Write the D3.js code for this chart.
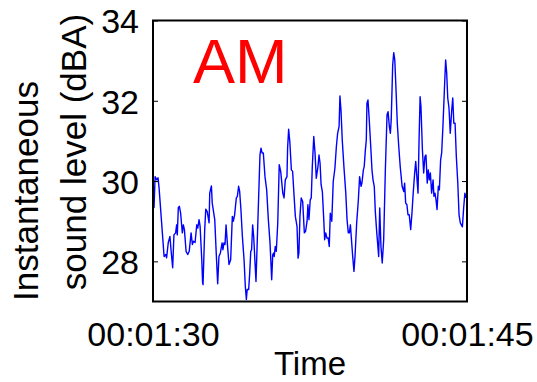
<!DOCTYPE html>
<html><head><meta charset="utf-8">
<script src="https://cdn.jsdelivr.net/npm/d3@7"></script>
<style>html,body{margin:0;padding:0;background:#fff;}svg{display:block;}</style>
</head><body>
<script>
// Data (time in seconds, level in dBA)
const times = [90.00,
90.05,90.10,90.18,90.24,90.29,90.53,90.61,90.65,90.73,90.81,
90.86,90.94,91.00,91.08,91.13,91.16,91.21,91.26,91.32,91.40,
91.45,91.50,91.58,91.66,91.73,91.82,91.88,91.93,92.01,92.09,
92.14,92.20,92.25,92.33,92.37,92.39,92.47,92.52,92.59,92.68,
92.71,92.79,92.83,92.95,93.02,93.09,93.15,93.22,93.30,93.34,
93.39,93.44,93.49,93.55,93.63,93.71,93.79,93.84,93.90,93.98,
94.03,94.09,94.14,94.20,94.27,94.35,94.41,94.46,94.50,94.57,
94.62,94.67,94.71,94.76,94.81,94.87,94.92,
95.11,95.16,95.21,95.27,95.35,95.43,95.51,95.59,95.67,95.72,
95.77,95.79,95.84,95.89,95.96,96.03,96.10,96.20,96.26,96.32,
96.40,96.43,96.48,96.54,96.61,96.67,96.74,96.80,96.88,96.93,
96.97,97.02,97.08,97.15,97.23,97.29,97.36,97.40,97.45,97.51,
97.56,97.61,97.68,97.74,97.80,97.88,97.93,97.98,98.03,98.09,
98.15,98.20,98.25,98.31,98.37,98.42,98.47,98.54,98.61,98.69,
98.76,98.82,98.89,98.93,98.98,99.04,99.12,99.21,99.27,99.33,
99.38,99.43,99.47,99.54,99.60,99.65,99.73,99.81,99.87,99.94,
99.98,100.05,100.09,100.14,100.19,100.22,100.27,100.33,100.41,100.46,
100.51,100.57,100.62,100.69,100.73,100.78,100.83,100.89,100.95,101.02,
101.10,101.18,101.23,101.29,101.34,101.38,101.45,101.50,101.55,101.61,
101.67,101.74,101.81,101.90,101.98,102.02,102.07,102.13,102.18,102.24,
102.31,102.37,102.43,102.50,102.55,102.58,102.66,102.71,102.76,102.80,
102.87,102.93,102.99,103.04,103.10,103.15,103.20,103.25,103.31,103.38,
103.42,103.47,103.52,103.57,103.63,103.68,103.74,103.79,103.85,103.92,
103.98,104.03,104.08,104.14,104.20,104.27,104.32,104.37,104.43,104.49,
104.56,104.62,104.68,104.78,104.84,104.90,104.95];

const levels = [29.55,
29.34,30.11,30.03,30.08,29.83,28.12,28.17,28.09,28.47,28.62,
28.29,27.84,28.66,28.71,28.91,28.66,29.34,29.37,29.20,28.71,
28.91,28.79,28.25,28.17,28.25,28.71,28.42,28.50,28.47,28.91,
28.83,29.04,28.87,28.04,27.47,27.42,28.79,29.30,29.24,28.96,
29.70,29.88,29.45,29.04,28.21,27.44,28.12,28.21,28.46,28.29,
28.46,28.42,28.91,28.46,27.92,28.04,29.12,29.00,29.16,29.58,
29.62,29.87,29.74,29.29,28.62,28.04,27.38,27.05,27.30,27.30,
27.71,28.25,28.29,28.91,28.62,28.00,27.50,
30.65,30.82,30.70,30.70,30.11,29.78,29.04,28.46,27.54,28.17,
28.21,28.12,28.37,28.25,28.96,30.41,30.24,29.70,29.58,30.03,
30.11,30.82,31.29,30.95,30.28,30.24,29.62,29.12,28.87,28.08,
28.21,29.12,29.58,29.49,28.71,28.75,29.00,29.41,29.04,29.53,
29.58,30.36,31.11,30.70,30.07,30.36,30.65,30.45,29.91,29.74,
29.12,28.54,28.71,28.58,28.58,28.37,29.20,29.00,29.99,30.32,
30.86,31.19,31.36,32.12,31.77,31.03,30.36,29.70,29.04,28.71,
28.71,28.91,28.62,28.12,27.75,28.12,28.96,29.53,30.11,29.87,
29.95,30.28,30.36,30.74,31.03,31.94,32.02,31.53,30.78,30.28,
30.03,29.87,29.24,28.71,28.46,28.12,29.33,28.37,27.96,28.54,
30.28,31.65,31.73,31.36,31.19,31.53,32.89,33.20,33.02,32.27,
31.44,30.86,30.36,29.87,29.74,29.95,29.45,29.41,29.16,29.16,
28.79,29.20,29.70,30.20,30.49,30.28,29.70,31.03,32.10,31.86,
30.78,30.20,30.61,30.65,29.95,30.28,30.03,30.20,29.70,30.03,
29.62,29.70,29.53,29.29,29.87,29.78,30.53,30.70,31.36,32.27,
33.02,32.69,32.07,31.82,31.19,31.77,32.07,31.44,31.44,30.61,
29.95,29.16,28.96,28.86,29.33,29.70,29.58];

const xDomain = [90, 105];
const yDomain = [27, 34];
const xTicks = [90, 105];
const yTicks = [28, 30, 32, 34];
const yLabelLines = ["Instantaneous", "sound level (dBA)"];
const xLabel = "Time";
const panelTitle = "AM";

const W = 537, H = 382;
const L = 153, R = 467, T = 20.5, B = 301.5;

const svg = d3.select("body").append("svg").attr("width", W).attr("height", H);
svg.append("rect").attr("width", W).attr("height", H).attr("fill", "#fff");

const x = d3.scaleLinear().domain(xDomain).range([L, R]);
const y = d3.scaleLinear().domain(yDomain).range([B, T]);

const fmt = s => {
  const hh = Math.floor(s / 3600), mm = Math.floor((s % 3600) / 60), ss = Math.round(s % 60);
  const p = n => String(n).padStart(2, "0");
  return p(hh) + ":" + p(mm) + ":" + p(ss);
};

const font = "'Liberation Sans', Arial, Helvetica, sans-serif";

// line
const n = Math.min(times.length, levels.length);
const data = d3.range(n).map(i => ({t: times[i], v: levels[i]}));
svg.append("defs").append("clipPath").attr("id", "clip")
  .append("rect").attr("x", L).attr("y", T).attr("width", R - L).attr("height", B - T);
svg.append("path").datum(data)
  .attr("clip-path", "url(#clip)")
  .attr("fill", "none").attr("stroke", "#0000ff").attr("stroke-width", 1.4)
  .attr("stroke-linejoin", "round")
  .attr("d", d3.line().x(d => x(d.t)).y(d => y(d.v)));

// axes (ticks inward, mirrored)
const tickLen = 5;
const yAxisL = d3.axisLeft(y).tickValues(yTicks).tickSize(-tickLen).tickPadding(9 + tickLen).tickFormat(d3.format("d"));
const gL = svg.append("g").attr("transform", `translate(${L},0)`).call(yAxisL);
const yAxisR = d3.axisRight(y).tickValues(yTicks).tickSize(-tickLen).tickFormat("");
const gR = svg.append("g").attr("transform", `translate(${R},0)`).call(yAxisR);
const xAxisB = d3.axisBottom(x).tickValues(xTicks).tickSize(-tickLen).tickPadding(15 + tickLen).tickFormat(fmt);
const gB = svg.append("g").attr("transform", `translate(0,${B})`).call(xAxisB);
const xAxisT = d3.axisTop(x).tickValues(xTicks).tickSize(-tickLen).tickFormat("");
const gT = svg.append("g").attr("transform", `translate(0,${T})`).call(xAxisT);

[gL, gR, gB, gT].forEach(g => {
  g.select(".domain").remove();
  g.selectAll(".tick line").attr("stroke", "#000").attr("stroke-width", 1);
  g.selectAll("text").attr("fill", "#000").style("font-family", font).style("font-size", "34px");
});
gL.selectAll("text").attr("dy", "0.36em");
gB.selectAll("text").attr("dy", "0.71em");

// frame
svg.append("rect").attr("x", L).attr("y", T).attr("width", R - L).attr("height", B - T)
  .attr("fill", "none").attr("stroke", "#000").attr("stroke-width", 2);

// labels
svg.append("text").attr("x", (L + R) / 2).attr("y", 375).attr("text-anchor", "middle")
  .style("font-family", font).style("font-size", "33px").attr("fill", "#000").text(xLabel);

const ylCenters = [{cx: 38, cy: 191}, {cx: 86, cy: 152}];
yLabelLines.forEach((t, i) => {
  svg.append("text")
    .attr("transform", `translate(${ylCenters[i].cx},${ylCenters[i].cy}) rotate(-90)`)
    .attr("text-anchor", "middle")
    .style("font-family", font).style("font-size", "35px").attr("fill", "#000").text(t);
});

svg.append("text").attr("x", 193).attr("y", 83)
  .style("font-family", font).style("font-size", "63px").attr("fill", "#ff0000").text(panelTitle);
</script>
</body></html>
